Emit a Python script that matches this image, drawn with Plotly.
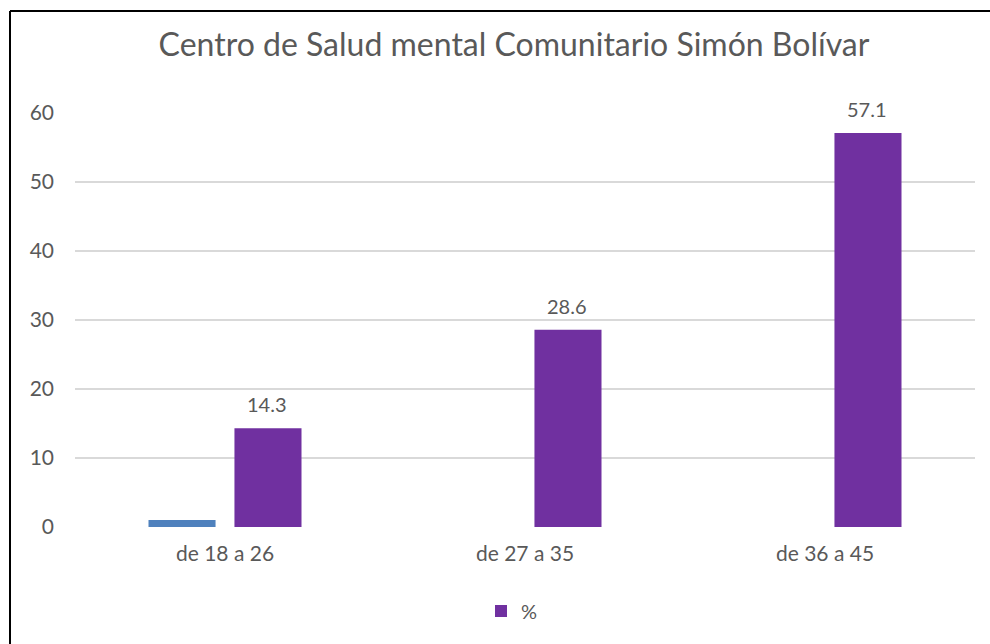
import plotly.graph_objects as go

categories = ["de 18 a 26", "de 27 a 35", "de 36 a 45"]
serie_azul = [1.0, 0, 0]
serie_pct = [14.3, 28.6, 57.1]
serie_pct_name = "%"
title_text = "Centro de Salud mental Comunitario Simón Bolívar"
y_ticks = [0, 10, 20, 30, 40, 50, 60]

FONT = "Lato, 'Open Sans', sans-serif"
GREY = "#595959"

W, H = 990, 644
L, T, PW, PH = 75, 113, 900, 414

fig = go.Figure()
fig.add_trace(go.Bar(x=categories, y=serie_azul, marker_color="#4f81bd",
                     marker_line_width=0, showlegend=False, name="Serie 1"))
fig.add_trace(go.Bar(x=categories, y=serie_pct, marker_color="#7030a0",
                     marker_line_width=0, name=serie_pct_name))

for c, v in zip(categories, serie_pct):
    fig.add_annotation(x=c, y=v, text=f"{v:.1f}", showarrow=False,
                       xref="x", yref="y", xshift=42, yshift=24,
                       font=dict(size=20, color=GREY, family=FONT))

fig.update_layout(
    width=W, height=H,
    paper_bgcolor="white", plot_bgcolor="white",
    margin=dict(l=L, r=W - L - PW, t=T, b=H - T - PH),
    barmode="group", bargap=0.427, bargroupgap=0.22,
    title=dict(text=title_text, x=514 / W, xanchor="center", y=1 - 45 / H,
               yanchor="middle", font=dict(size=32, color=GREY, family=FONT)),
    font=dict(family=FONT, color=GREY, size=21),
    showlegend=True,
    legend=dict(orientation="h", x=(512 - L) / PW, xanchor="center",
                y=(T + PH - 611) / PH, yanchor="middle",
                font=dict(size=20, color=GREY, family=FONT)),
    xaxis=dict(showgrid=False, showline=False, ticks="", ticklabelstandoff=12,
               tickfont=dict(size=21, color=GREY, family=FONT)),
    yaxis=dict(range=[0, 60], tickvals=y_ticks, showgrid=True, gridcolor="#d9d9d9",
               gridwidth=1.5, zeroline=False, ticks="", ticklabelstandoff=20,
               tickfont=dict(size=21, color=GREY, family=FONT)),
)

# chart frame: only left and top edges are visible in the image
fx0 = (10 - L) / PW
fy1 = 1 + (T - 11) / PH
fig.add_shape(type="line", xref="paper", yref="paper", x0=fx0, x1=fx0,
              y0=-(H - T - PH) / PH, y1=fy1,
              line=dict(color="black", width=2), layer="below")
fig.add_shape(type="line", xref="paper", yref="paper", x0=fx0, x1=1 + (W - L - PW) / PW,
              y0=fy1, y1=fy1, line=dict(color="black", width=2), layer="below")

fig.write_html("out.html", config={"displayModeBar": False},
               post_script="document.body.style.margin='0';document.body.style.overflow='hidden';")
